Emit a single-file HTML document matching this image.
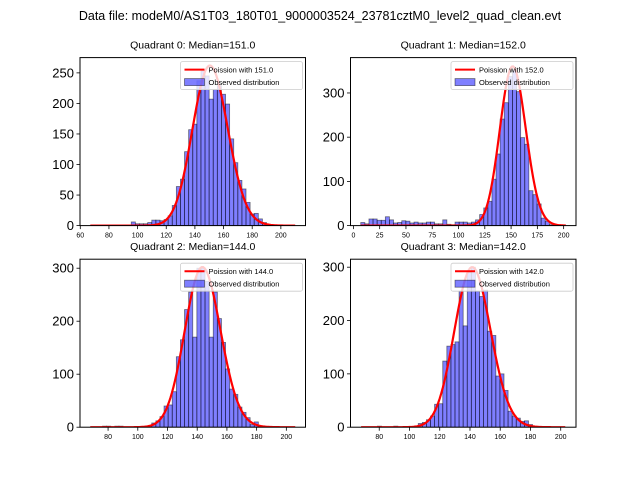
<!DOCTYPE html>
<html><head><meta charset="utf-8"><style>
body{margin:0;background:#fff;}
svg{display:block;font-family:"Liberation Sans","DejaVu Sans",sans-serif;}
</style></head><body>
<svg id="fig" width="640" height="480" viewBox="0 0 640 480">
<rect width="640" height="480" fill="#fff"/>
<text x="320" y="20" font-size="12.5" text-anchor="middle">Data file: modeM0/AS1T03_180T01_9000003524_23781cztM0_level2_quad_clean.evt</text>
</svg>
<script>
// ---- data ----
const q0Counts=[0,0,0,0,0,0,0,0,0,0,6,3,3,3,5,9,9,8,10,16,33,64,76,121,157,166,237,253,245,207,223,229,215,199,142,103,74,60,38,19,20,11,5,2,1,0,0,0,0,0];
const q1Counts=[7,4,15,15,12,12,20,13,6,7,11,10,6,8,6,6,8,8,4,4,13,3,2,8,8,8,6,8,13,25,40,55,105,162,241,278,337,352,303,199,184,79,70,49,17,10,2,2,1,0];
const q2Counts=[0,0,0,2,2,0,2,2,0,0,0,0,1,1,2,8,12,20,40,42,67,133,165,222,255,170,300,300,275,170,255,205,160,110,72,62,38,28,18,5,10,2,1,0,0,0,0,0,0,0];
const q3Counts=[0,0,0,0,2,0,0,0,2,0,0,0,0,0,7,9,14,21,43,44,124,152,155,160,255,190,290,300,255,245,257,180,172,96,100,69,30,21,17,11,12,5,0,0,0,0,0,0,0,0];
const binStarts=[67,7,68,68];
const binWidths=[2.86,3.9,2.76,2.7];
const dataMax=[210,202,206,203];
const medians=[151.0,152.0,144.0,142.0];
const curvePeaks=[262,360,302,300];
const xTicks=[[60,80,100,120,140,160,180,200],[0,25,50,75,100,125,150,175,200],[80,100,120,140,160,180,200],[80,100,120,140,160,180,200]];
const yTicks=[[0,50,100,150,200,250],[0,100,200,300],[0,100,200,300],[0,100,200,300]];
const xLims=[[59.8,217.2],[-2.75,211.75],[61.1,212.9],[61,210.1]];
const yMaxs=[275,380,317,315];
const counts=[q0Counts,q1Counts,q2Counts,q3Counts];
// ---- layout ----
const boxes=[[80,57.6,225.5,168],[350.5,57.6,225.5,168],[80,259.2,225.5,168],[350.5,259.2,225.5,168]];
const NS="http://www.w3.org/2000/svg";
const fig=document.getElementById('fig');
function mk(tag,attrs,parent){const e=document.createElementNS(NS,tag);for(const k in attrs)e.setAttribute(k,attrs[k]);(parent||fig).appendChild(e);return e;}
function lgamma(x){return (x-0.5)*Math.log(x)-x+0.5*Math.log(2*Math.PI)+1/(12*x)-1/(360*x*x*x);}
for(let q=0;q<4;q++){
  const [L,T,W,H]=boxes[q];
  const xs=v=>L+(v-xLims[q][0])/(xLims[q][1]-xLims[q][0])*W;
  const ys=v=>T+H-v/yMaxs[q]*H;
  const g=mk('g',{});
  
  
  const clip=mk('clipPath',{id:'c'+q},g);mk('rect',{x:L,y:T,width:W,height:H},clip);
  const bars=mk('g',{'clip-path':'url(#c'+q+')'},g);
  
  
  counts[q].forEach((c,i)=>{
    const a=binStarts[q]+i*binWidths[q];
    const x0=xs(a),x1=xs(a+binWidths[q]);
    const r=mk('rect',{x:x0,y:ys(c),width:x1-x0,height:ys(0)-ys(c),fill:'rgba(0,0,255,0.5)',stroke:'rgba(0,0,0,0.5)','stroke-width':0.8},bars);
    
    
  });
  // poisson curve
  const mu=medians[q];
  const peakPmf=Math.exp(Math.round(mu)*Math.log(mu)-mu-lgamma(Math.round(mu)+1));
  let pts=[];
  for(let k=Math.ceil(binStarts[q]);k<=dataMax[q];k++){
    const p=Math.exp(k*Math.log(mu)-mu-lgamma(k+1));
    pts.push(xs(k).toFixed(2)+','+ys(p/peakPmf*curvePeaks[q]).toFixed(2));
  }
  const pl=mk('polyline',{points:pts.join(' '),fill:'none',stroke:'#ff0000','stroke-width':2.2,'clip-path':'url(#c'+q+')'},g);
  
  
  const fr=mk('rect',{x:L,y:T,width:W,height:H,fill:'none',stroke:'#000','stroke-width':1},g);
  
  
  xTicks[q].forEach(t=>{const x=xs(t);mk('line',{x1:x,x2:x,y1:T+H,y2:T+H+3.5,stroke:'#000','stroke-width':0.8},g);
    const tx=mk('text',{x:x,y:T+H+12,'font-size':7,'text-anchor':'middle'},g);tx.textContent=t;
    
    });
  yTicks[q].forEach(t=>{const y=ys(t);mk('line',{x1:L-3.5,x2:L,y1:y,y2:y,stroke:'#000','stroke-width':0.8},g);
    const tx=mk('text',{x:L-6,y:y+4.5,'font-size':13,'text-anchor':'end'},g);tx.textContent=t;
    
    });
  const ti=mk('text',{x:L+W/2,y:T-9,'font-size':10.5,'text-anchor':'middle'},g);
  ti.textContent='Quadrant '+q+': Median='+mu.toFixed(1);
  
  
  // legend
  const lg=mk('g',{},g);
  
  
  const lx=L+W-125,ly=T+4;
  mk('rect',{x:lx,y:ly,width:122,height:28,fill:'rgba(255,255,255,0.8)',stroke:'#ccc','stroke-width':0.8,rx:2},lg);
  mk('line',{x1:lx+4,x2:lx+24,y1:ly+8,y2:ly+8,stroke:'#ff0000','stroke-width':2},lg);
  const t1=mk('text',{x:lx+28,y:ly+11,'font-size':7.5},lg);t1.textContent='Poission with '+mu.toFixed(1);
  
  
  mk('rect',{x:lx+4,y:ly+17,width:20,height:7,fill:'rgba(0,0,255,0.5)',stroke:'rgba(0,0,0,0.5)','stroke-width':0.8},lg);
  const t2=mk('text',{x:lx+28,y:ly+23.5,'font-size':7.5},lg);t2.textContent='Observed distribution';
  
  
}
</script>
</body></html>
